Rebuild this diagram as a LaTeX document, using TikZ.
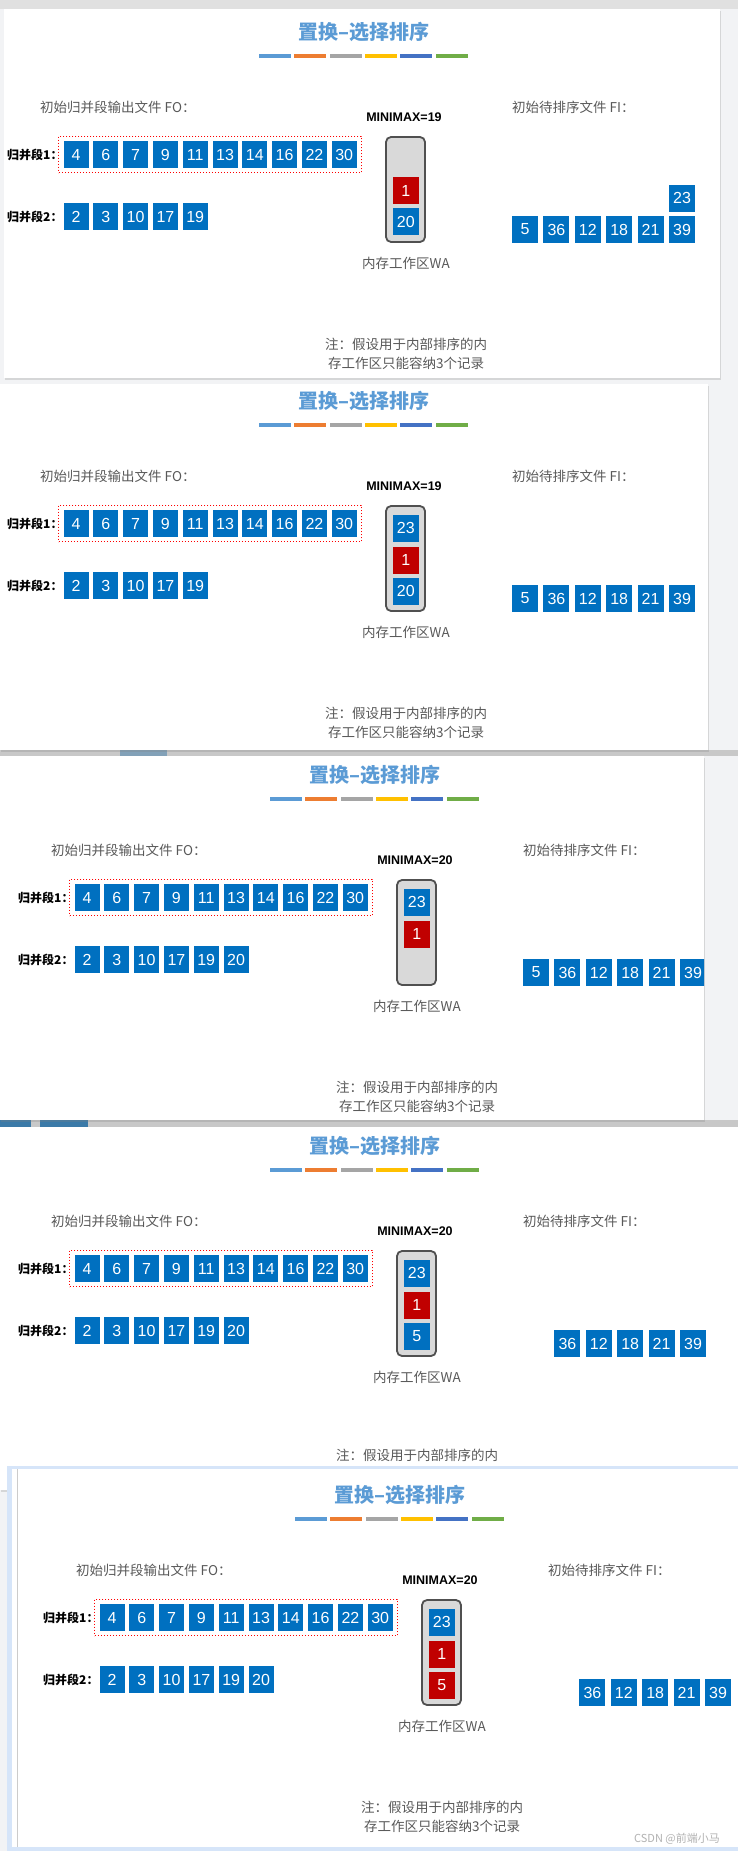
\documentclass[tikz,border=0pt]{standalone}
\usepackage{fontspec}
\setmainfont{Liberation Sans}
\newfontfamily\cjk{Noto Sans CJK SC}
\definecolor{selblue}{HTML}{5B9BD5}
\definecolor{recblue}{HTML}{0070C0}
\definecolor{recred}{HTML}{C00000}
\definecolor{wagray}{HTML}{D9D9D9}
\definecolor{waedge}{HTML}{505050}
\definecolor{txtgray}{HTML}{595959}
\definecolor{barblue}{HTML}{5B9BD5}
\definecolor{barorange}{HTML}{ED7D31}
\definecolor{bargray}{HTML}{A5A5A5}
\definecolor{baryellow}{HTML}{FFC000}
\definecolor{bardkblue}{HTML}{4472C4}
\definecolor{bargreen}{HTML}{70AD47}
\definecolor{pagebg}{HTML}{F2F3F5}
\definecolor{stripgray}{HTML}{C8C8C8}
\definecolor{stripblue}{HTML}{3B7AA8}
\definecolor{glowblue}{HTML}{D6E5F9}
\usepackage{tikz}
\usetikzlibrary{positioning,fit,shadows}

\begin{document}
\begin{tikzpicture}[x=1pt,y=-1pt,
  rec/.style={fill=recblue, minimum width=25pt, minimum height=27pt,
              inner sep=0pt, text=white, font=\fontsize{16}{16}\selectfont},
  firec/.style={rec, minimum width=26pt},
  slot/.style={rec, minimum width=26.5pt},
  hotslot/.style={slot, fill=recred},
  ttl/.style={font=\cjk\bfseries\fontsize{20}{20}\selectfont, text=selblue},
  bar/.style={minimum width=32pt, minimum height=4pt, inner sep=0pt},
  lbl/.style={font=\cjk\fontsize{13.5}{19}\selectfont, text=txtgray, inner sep=0pt},
  runlbl/.style={font=\cjk\bfseries\fontsize{12}{12}\selectfont, anchor=west, inner sep=0pt},
  mmx/.style={font=\bfseries\fontsize{12.5}{12.5}\selectfont, inner sep=0pt},
  wa/.style={draw=waedge, line width=1.8pt, fill=wagray, rounded corners=5pt,
             minimum width=39pt, minimum height=105pt, inner sep=0pt},
  runbox/.style={draw=red, dotted, line width=1pt, inner sep=4.5pt},
  sheet/.style={fill=white, drop shadow={shadow xshift=1pt, shadow yshift=-2pt, opacity=0.25}}
]
  \useasboundingbox (0,0) rectangle (738,1851);
  \fill[pagebg] (0,0) rectangle (738,1851);
  \fill[black!12] (0,0) rectangle (738,9);
  \fill[stripgray] (0,750) rectangle (738,756);
  \fill[stripblue!50!stripgray] (120,750) rectangle (167,756);
  \fill[stripgray] (0,1120) rectangle (738,1127);
  \fill[stripblue] (0,1120) rectangle (31,1127);
  \fill[stripblue] (40,1120) rectangle (88,1127);

  % panel 1
  \fill[sheet] (4,9) rectangle (720,378);
  \begin{scope}
    \node[ttl] (p1title) at (364,32) {置换–选择排序};
    \foreach \c [count=\i from 0] in {barblue,barorange,bargray,baryellow,bardkblue,bargreen}
      \node[bar, fill=\c] (p1bar\i) at ({275+35.3*\i},56) {};
    \node[lbl, anchor=west] (p1fo) at (40,107) {初始归并段输出文件 FO：};
    \node[mmx] (p1mm) at (404,117) {MINIMAX=19};
    \node[lbl, anchor=west] (p1fi) at (512,107) {初始待排序文件 FI：};
    \node[runlbl] (p1l1) at (7,154.5) {归并段1：};
    \foreach \v [count=\i from 0] in {4,6,7,9,11,13,14,16,22,30}
      \node[rec] (p1a\i) at ({76+29.8*\i},154.5) {\v};
    \node[runbox, fit=(p1a0)(p1a9)] (p1run) {};
    \node[runlbl] (p1l2) at (7,216.5) {归并段2：};
    \foreach \v [count=\i from 0] in {2,3,10,17,19}
      \node[rec] (p1b\i) at ({76+29.8*\i},216.5) {\v};
    \node[wa] (p1wa) at (405.5,189.5) {};
    \node[hotslot] (p1w2) at (405.8,191) {1};
    \node[slot] (p1w3) at (405.8,222) {20};
    \node[lbl] (p1wal) at (406,263) {内存工作区WA};
    \foreach \v [count=\i from 0] in {5,36,12,18,21,39}
      \node[firec] (p1f\i) at ({525+31.4*\i},229.5) {\v};
    \node[firec, above=4pt of p1f5] (p1f6) {23};
    \node[lbl, align=center] (p1note) at (406,353.5) {注：假设用于内部排序的内\\存工作区只能容纳3个记录};
  \end{scope}

  % panel 2
  \fill[sheet] (0,384) rectangle (708,750);
  \begin{scope}[shift={(0,369)}]
    \node[ttl] (p2title) at (364,32) {置换–选择排序};
    \foreach \c [count=\i from 0] in {barblue,barorange,bargray,baryellow,bardkblue,bargreen}
      \node[bar, fill=\c] (p2bar\i) at ({275+35.3*\i},56) {};
    \node[lbl, anchor=west] (p2fo) at (40,107) {初始归并段输出文件 FO：};
    \node[mmx] (p2mm) at (404,117) {MINIMAX=19};
    \node[lbl, anchor=west] (p2fi) at (512,107) {初始待排序文件 FI：};
    \node[runlbl] (p2l1) at (7,154.5) {归并段1：};
    \foreach \v [count=\i from 0] in {4,6,7,9,11,13,14,16,22,30}
      \node[rec] (p2a\i) at ({76+29.8*\i},154.5) {\v};
    \node[runbox, fit=(p2a0)(p2a9)] (p2run) {};
    \node[runlbl] (p2l2) at (7,216.5) {归并段2：};
    \foreach \v [count=\i from 0] in {2,3,10,17,19}
      \node[rec] (p2b\i) at ({76+29.8*\i},216.5) {\v};
    \node[wa] (p2wa) at (405.5,189.5) {};
    \node[slot] (p2w1) at (405.8,159) {23};
    \node[hotslot] (p2w2) at (405.8,191) {1};
    \node[slot] (p2w3) at (405.8,222) {20};
    \node[lbl] (p2wal) at (406,263) {内存工作区WA};
    \foreach \v [count=\i from 0] in {5,36,12,18,21,39}
      \node[firec] (p2f\i) at ({525+31.4*\i},229.5) {\v};
    \node[lbl, align=center] (p2note) at (406,353.5) {注：假设用于内部排序的内\\存工作区只能容纳3个记录};
  \end{scope}

  % panel 3
  \fill[sheet] (0,756) rectangle (704,1120);
  \begin{scope}[shift={(11,743)}]
    \clip (-11,13) rectangle (693,377);
    \node[ttl] (p3title) at (364,32) {置换–选择排序};
    \foreach \c [count=\i from 0] in {barblue,barorange,bargray,baryellow,bardkblue,bargreen}
      \node[bar, fill=\c] (p3bar\i) at ({275+35.3*\i},56) {};
    \node[lbl, anchor=west] (p3fo) at (40,107) {初始归并段输出文件 FO：};
    \node[mmx] (p3mm) at (404,117) {MINIMAX=20};
    \node[lbl, anchor=west] (p3fi) at (512,107) {初始待排序文件 FI：};
    \node[runlbl] (p3l1) at (7,154.5) {归并段1：};
    \foreach \v [count=\i from 0] in {4,6,7,9,11,13,14,16,22,30}
      \node[rec] (p3a\i) at ({76+29.8*\i},154.5) {\v};
    \node[runbox, fit=(p3a0)(p3a9)] (p3run) {};
    \node[runlbl] (p3l2) at (7,216.5) {归并段2：};
    \foreach \v [count=\i from 0] in {2,3,10,17,19,20}
      \node[rec] (p3b\i) at ({76+29.8*\i},216.5) {\v};
    \node[wa] (p3wa) at (405.5,189.5) {};
    \node[slot] (p3w1) at (405.8,159) {23};
    \node[hotslot] (p3w2) at (405.8,191) {1};
    \node[lbl] (p3wal) at (406,263) {内存工作区WA};
    \foreach \v [count=\i from 0] in {5,36,12,18,21,39}
      \node[firec] (p3f\i) at ({525+31.4*\i},229.5) {\v};
    \node[lbl, align=center] (p3note) at (406,353.5) {注：假设用于内部排序的内\\存工作区只能容纳3个记录};
  \end{scope}

  % panel 4
  \fill[sheet] (0,1127) rectangle (738,1490);
  \begin{scope}[shift={(11,1114)}]
    \node[ttl] (p4title) at (364,32) {置换–选择排序};
    \foreach \c [count=\i from 0] in {barblue,barorange,bargray,baryellow,bardkblue,bargreen}
      \node[bar, fill=\c] (p4bar\i) at ({275+35.3*\i},56) {};
    \node[lbl, anchor=west] (p4fo) at (40,107) {初始归并段输出文件 FO：};
    \node[mmx] (p4mm) at (404,117) {MINIMAX=20};
    \node[lbl, anchor=west] (p4fi) at (512,107) {初始待排序文件 FI：};
    \node[runlbl] (p4l1) at (7,154.5) {归并段1：};
    \foreach \v [count=\i from 0] in {4,6,7,9,11,13,14,16,22,30}
      \node[rec] (p4a\i) at ({76+29.8*\i},154.5) {\v};
    \node[runbox, fit=(p4a0)(p4a9)] (p4run) {};
    \node[runlbl] (p4l2) at (7,216.5) {归并段2：};
    \foreach \v [count=\i from 0] in {2,3,10,17,19,20}
      \node[rec] (p4b\i) at ({76+29.8*\i},216.5) {\v};
    \node[wa] (p4wa) at (405.5,189.5) {};
    \node[slot] (p4w1) at (405.8,159) {23};
    \node[hotslot] (p4w2) at (405.8,191) {1};
    \node[slot] (p4w3) at (405.8,222) {5};
    \node[lbl] (p4wal) at (406,263) {内存工作区WA};
    \foreach \v [count=\i from 1] in {36,12,18,21,39}
      \node[firec] (p4f\i) at ({525+31.4*\i},229.5) {\v};
    \node[lbl, align=center] (p4note) at (406,351) {注：假设用于内部排序的内\\存工作区只能容纳3个记录};
  \end{scope}

  % panel 5
  \fill[glowblue] (7,1466) rectangle (738,1851);
  \fill[white] (12,1469) rectangle (738,1847);
  \draw[black!20] (17,1469) -- (17,1847);
  \begin{scope}[shift={(36,1463)}]
    \node[ttl] (p5title) at (364,32) {置换–选择排序};
    \foreach \c [count=\i from 0] in {barblue,barorange,bargray,baryellow,bardkblue,bargreen}
      \node[bar, fill=\c] (p5bar\i) at ({275+35.3*\i},56) {};
    \node[lbl, anchor=west] (p5fo) at (40,107) {初始归并段输出文件 FO：};
    \node[mmx] (p5mm) at (404,117) {MINIMAX=20};
    \node[lbl, anchor=west] (p5fi) at (512,107) {初始待排序文件 FI：};
    \node[runlbl] (p5l1) at (7,154.5) {归并段1：};
    \foreach \v [count=\i from 0] in {4,6,7,9,11,13,14,16,22,30}
      \node[rec] (p5a\i) at ({76+29.8*\i},154.5) {\v};
    \node[runbox, fit=(p5a0)(p5a9)] (p5run) {};
    \node[runlbl] (p5l2) at (7,216.5) {归并段2：};
    \foreach \v [count=\i from 0] in {2,3,10,17,19,20}
      \node[rec] (p5b\i) at ({76+29.8*\i},216.5) {\v};
    \node[wa] (p5wa) at (405.5,189.5) {};
    \node[slot] (p5w1) at (405.8,159) {23};
    \node[hotslot] (p5w2) at (405.8,191) {1};
    \node[hotslot] (p5w3) at (405.8,222) {5};
    \node[lbl] (p5wal) at (406,263) {内存工作区WA};
    \foreach \v [count=\i from 1] in {36,12,18,21,39}
      \node[firec] (p5f\i) at ({525+31.4*\i},229.5) {\v};
    \node[lbl, align=center] (p5note) at (406,353.5) {注：假设用于内部排序的内\\存工作区只能容纳3个记录};
  \end{scope}
  \node[font=\cjk\fontsize{11}{11}\selectfont, text=black!30] (mark) at (677,1839) {CSDN @前端小马};
\end{tikzpicture}
\end{document}
